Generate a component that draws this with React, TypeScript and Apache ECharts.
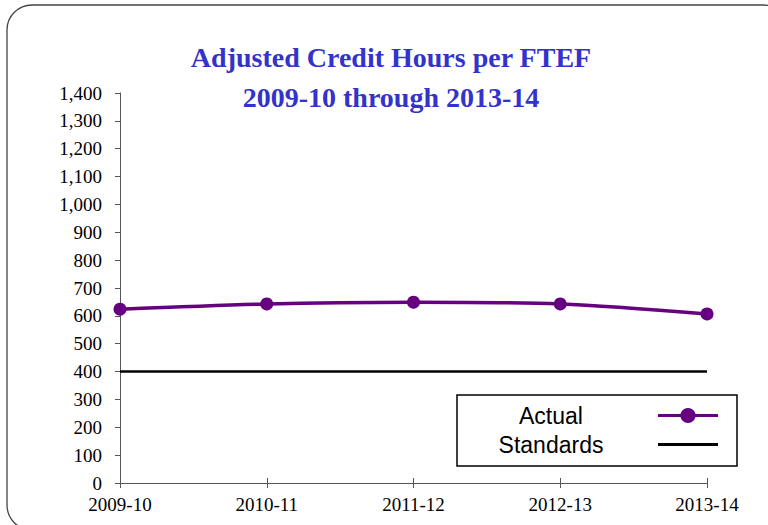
import React, { useEffect, useRef } from "react";
import * as echarts from "echarts";

const categories = ["2009-10", "2010-11", "2011-12", "2012-13", "2013-14"];
const actualValues = [624, 643, 649, 643, 607];
const standardValues = [400, 400, 400, 400, 400];
const seriesNames = ["Actual", "Standards"];
const titleLines = ["Adjusted Credit Hours per FTEF", "2009-10 through 2013-14"];
const yMin = 0;
const yMax = 1400;
const yStep = 100;

export default function App() {
  const ref = useRef<HTMLDivElement>(null);
  useEffect(() => {
    const chart = echarts.init(ref.current!, null, { renderer: "svg" });
    const axisColor = "#555";
    chart.setOption({
      animation: false,
      backgroundColor: "#fff",
      title: {
        text: titleLines.join("\n"),
        left: 391,
        top: 37,
        textAlign: "center",
        padding: 0,
        textStyle: {
          fontFamily: "Liberation Serif",
          fontWeight: "bold",
          fontSize: 28,
          color: "#3333CC",
          lineHeight: 40,
        },
      },
      graphic: [
        {
          type: "rect",
          shape: { x: 7, y: 5, width: 781, height: 525, r: 25 },
          style: { fill: "none", stroke: "#444", lineWidth: 1.3 },
          silent: true,
        },
        {
          type: "rect",
          shape: { x: 457, y: 395, width: 280, height: 71 },
          style: { fill: "none", stroke: "#000", lineWidth: 1.5 },
          silent: true,
          z: 10,
        },
      ],
      legend: {
        orient: "vertical",
        left: 449,
        top: 404,
        padding: 0,
        itemGap: 6,
        itemWidth: 60,
        itemHeight: 19,
        align: "right",
        formatter: "{a|{name}}",
        textStyle: {
          rich: {
            a: {
              width: 204,
              align: "center",
              fontSize: 23,
              fontFamily: "Liberation Sans",
              color: "#000",
              lineHeight: 26,
            },
          },
        },
        data: [
          { name: seriesNames[0], lineStyle: { width: 3 } },
          { name: seriesNames[1], lineStyle: { width: 3 }, itemStyle: { opacity: 0 } },
        ],
      },
      grid: { left: 120, right: 61, top: 93, bottom: 42, containLabel: false },
      xAxis: [
        {
          type: "category",
          data: categories,
          boundaryGap: false,
          axisLine: { show: true, lineStyle: { color: axisColor, width: 1 } },
          axisTick: { show: true, length: 5, inside: false, lineStyle: { color: axisColor } },
          axisLabel: {
            margin: 12,
            fontFamily: "Liberation Serif",
            fontSize: 19,
            color: "#000",
          },
          splitLine: { show: false },
        },
        {
          type: "category",
          data: categories,
          boundaryGap: false,
          position: "bottom",
          axisLine: { show: false },
          axisTick: { show: true, length: 5, inside: true, lineStyle: { color: axisColor } },
          axisLabel: { show: false },
          splitLine: { show: false },
        },
      ],
      yAxis: {
        type: "value",
        min: yMin,
        max: yMax,
        interval: yStep,
        axisLine: { show: true, lineStyle: { color: axisColor, width: 1 } },
        axisTick: { show: true, length: 5, inside: false, lineStyle: { color: axisColor } },
        axisLabel: {
          margin: 18,
          fontFamily: "Liberation Serif",
          fontSize: 19,
          color: "#000",
          formatter: (v: number) => v.toLocaleString("en-US"),
        },
        splitLine: { show: false },
      },
      series: [
        {
          name: seriesNames[1],
          type: "line",
          data: standardValues,
          symbol: "none",
          lineStyle: { color: "#000", width: 2.5 },
          itemStyle: { color: "#000" },
          z: 2,
        },
        {
          name: seriesNames[0],
          type: "line",
          data: actualValues,
          smooth: 0.3,
          symbol: "circle",
          symbolSize: 13,
          lineStyle: { color: "#660080", width: 3.5 },
          itemStyle: { color: "#660080" },
          z: 3,
        },
      ],
    });
    return () => chart.dispose();
  }, []);
  return (
    <div
      ref={ref}
      style={{ position: "absolute", left: 0, top: 0, width: 768, height: 525 }}
    />
  );
}
